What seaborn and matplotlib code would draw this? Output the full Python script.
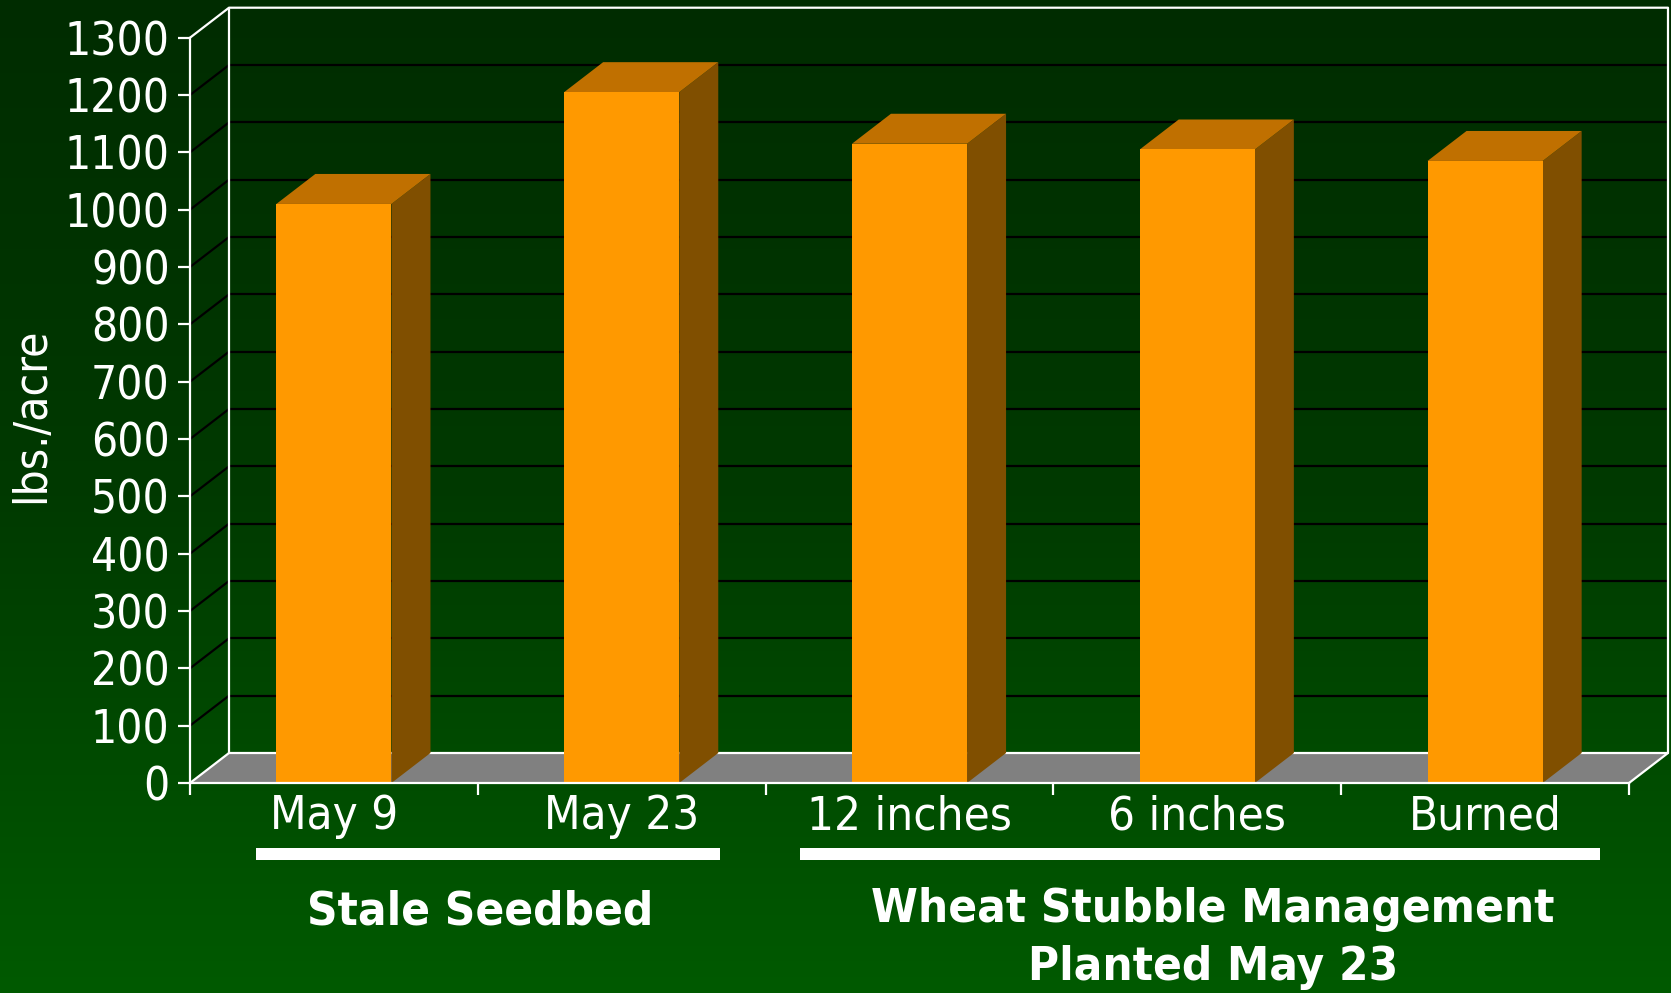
import numpy as np
import matplotlib
matplotlib.use("Agg")
import matplotlib.pyplot as plt
from matplotlib.colors import LinearSegmentedColormap
from matplotlib.patches import Polygon, Rectangle
import seaborn as sns
import pandas as pd

# ---------------- data ----------------
categories = ["May 9", "May 23", "12 inches", "6 inches", "Burned"]
yields = [1010, 1205, 1115, 1105, 1085]
group_labels = ["Stale Seedbed", "Wheat Stubble Management\nPlanted May 23"]
y_ticks = list(range(0, 1301, 100))
y_label = "lbs./acre"

# ---------------- layout ----------------
W, H, DPI = 1671, 993, 100
L_PX, R_PX = 190, 1629          # front plane x extent
Y0_PX, Y1_PX = 783, 37.7        # front plane: value 0 / 1300
DX_PX, DY_PX = 39, 30           # depth offset of back wall

sns.set_theme(style="white")
plt.rcParams['font.family'] = ['DejaVu Sans']
plt.rcParams['font.stretch'] = 'condensed'

fig = plt.figure(figsize=(W / DPI, H / DPI), dpi=DPI)

# gradient background
bg = fig.add_axes([0, 0, 1, 1], zorder=-10)
cmap = LinearSegmentedColormap.from_list("g", ["#002c00", "#003a00", "#005a00"])
bg.imshow(np.linspace(0, 1, 512)[:, None], aspect="auto", cmap=cmap,
          extent=[0, 1, 0, 1], origin="upper")
bg.set_axis_off()

ax = fig.add_axes([L_PX / W, 1 - Y0_PX / H, (R_PX - L_PX) / W, (Y0_PX - Y1_PX) / H])
ax.patch.set_alpha(0)

df = pd.DataFrame({"cat": categories, "val": yields})
sns.barplot(data=df, x="cat", y="val", width=0.40, color="#FF9900",
            saturation=1, ax=ax, zorder=6, edgecolor="none", linewidth=0)
bars = list(ax.patches)

n = len(categories)
ax.set_xlim(-0.5, n - 0.5)
ax.set_ylim(0, y_ticks[-1])
dx = DX_PX / ((R_PX - L_PX) / n)
dy = DY_PX / ((Y0_PX - Y1_PX) / y_ticks[-1])

xl, xr = -0.5, n - 0.5
ytop = y_ticks[-1]
lw = 1.6

# back wall gridlines & side-wall diagonals
for v in y_ticks[1:-1]:
    ax.plot([xl + dx, xr + dx], [v + dy, v + dy], color="black", lw=lw,
            clip_on=False, zorder=1)
    ax.plot([xl, xl + dx], [v, v + dy], color="black", lw=lw,
            clip_on=False, zorder=1)

# wall outline (white)
ax.plot([xl, xl + dx, xr + dx, xr + dx], [ytop, ytop + dy, ytop + dy, dy],
        color="white", lw=lw, clip_on=False, zorder=2)
ax.plot([xl + dx, xl + dx], [dy, ytop + dy], color="white", lw=lw,
        clip_on=False, zorder=2)

# floor
floor = Polygon([(xl, 0), (xr, 0), (xr + dx, dy), (xl + dx, dy)], closed=True,
                facecolor="#808080", edgecolor="none", clip_on=False, zorder=3)
ax.add_patch(floor)
ax.plot([xl, xl + dx, xr + dx, xr], [0, dy, dy, 0], color="white", lw=lw,
        clip_on=False, zorder=3.5)

# 3D faces for bars
for p in bars:
    x0, w, h = p.get_x(), p.get_width(), p.get_height()
    top = Polygon([(x0, h), (x0 + w, h), (x0 + w + dx, h + dy), (x0 + dx, h + dy)],
                  closed=True, facecolor="#C07000", edgecolor="none",
                  clip_on=False, zorder=5)
    side = Polygon([(x0 + w, 0), (x0 + w + dx, dy), (x0 + w + dx, h + dy), (x0 + w, h)],
                   closed=True, facecolor="#804F00", edgecolor="none",
                   clip_on=False, zorder=5)
    ax.add_patch(side)
    ax.add_patch(top)
    p.set_clip_on(False)

# axes styling
for s in ["top", "right"]:
    ax.spines[s].set_visible(False)
for s in ["left", "bottom"]:
    ax.spines[s].set_color("white")
    ax.spines[s].set_linewidth(lw)
    ax.spines[s].set_zorder(7)

ax.set_yticks(y_ticks)
ax.set_yticklabels([str(v) for v in y_ticks])
ax.tick_params(axis="y", colors="white", length=8.6, width=lw, labelsize=33, pad=6,
               left=True)
ax.set_xticks(range(n))
ax.set_xticklabels(categories)
ax.set_xticks(np.arange(-0.5, n, 1.0), minor=True)
ax.tick_params(axis="x", which="major", length=0, colors="white", labelsize=34, pad=8)
ax.tick_params(axis="x", which="minor", length=8.6, width=lw, colors="white",
               bottom=True)
ax.set_xlabel("")
ax.set_ylabel("")
ax.grid(False)

fig.text(32 / W, 1 - 415 / H, y_label, rotation=90, ha="center", va="center",
         color="white", fontsize=33)

# group underlines
for (x0p, x1p) in [(256, 720), (800, 1600)]:
    fig.add_artist(Rectangle((x0p / W, 1 - 860 / H), (x1p - x0p) / W, 12 / H,
                             transform=fig.transFigure, facecolor="white",
                             edgecolor="none"))

# group labels
fig.text(480 / W, 1 - 912 / H, group_labels[0], ha="center", va="center",
         color="white", fontsize=34, fontweight="bold")
for i, line in enumerate(group_labels[1].split("\n")):
    fig.text(1213 / W, 1 - (910 + 57 * i) / H, line, ha="center", va="center",
             color="white", fontsize=34, fontweight="bold")

fig.savefig("out.png", dpi=DPI)
